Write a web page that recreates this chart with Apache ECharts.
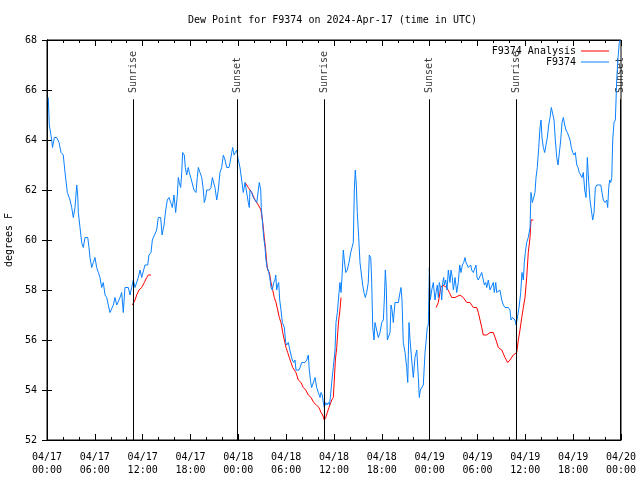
<!DOCTYPE html>
<html>
<head>
<meta charset="utf-8">
<script src="https://cdn.jsdelivr.net/npm/echarts@6/dist/echarts.min.js"></script>
<style>html,body{margin:0;padding:0;background:#fff}#c{width:640px;height:480px}</style>
</head>
<body>
<div id="c"></div>
<script>
// hours since 2024-04-17 00:00 UTC
const blueHours = [0.16,0.29,0.59,0.69,0.92,1.22,1.51,1.76,2.04,2.26,2.55,2.89,3.10,3.30,3.51,3.73,3.85,3.93,4.14,4.35,4.55,4.77,5.11,5.27,5.39,5.61,5.81,6.02,6.23,6.44,6.65,6.86,7.06,7.28,7.49,7.69,7.90,8.12,8.32,8.53,8.74,8.94,9.16,9.37,9.57,9.78,10.20,10.41,10.62,10.83,11.04,11.25,11.45,11.67,11.88,12.08,12.29,12.63,12.79,13.05,13.21,13.46,13.76,13.96,14.26,14.43,14.68,14.89,15.09,15.30,15.52,15.72,15.93,16.14,16.35,16.47,16.60,16.77,16.90,17.02,17.22,17.35,17.52,17.72,17.85,18.03,18.23,18.44,18.69,18.85,18.98,19.19,19.41,19.61,19.73,19.91,20.03,20.36,20.57,20.74,20.95,21.07,21.29,21.49,21.70,21.91,22.12,22.33,22.54,22.83,22.96,23.17,23.29,23.46,23.62,23.80,24.00,24.21,24.42,24.62,24.84,25.05,25.25,25.38,25.46,25.68,25.88,26.09,26.31,26.51,26.63,26.81,26.88,27.06,27.18,27.35,27.47,27.60,27.76,27.94,28.10,28.26,28.44,28.60,28.69,28.81,28.94,29.06,29.19,29.35,29.52,29.64,29.77,29.94,30.07,30.27,30.39,30.61,30.77,30.95,31.11,31.23,31.61,31.74,31.95,32.36,32.58,32.78,32.90,33.08,33.20,33.41,33.62,33.83,34.03,34.25,34.37,34.53,34.66,34.78,34.96,35.12,35.29,35.44,35.63,35.71,35.91,36.13,36.25,36.42,36.63,36.75,36.88,37.00,37.17,37.29,37.47,37.67,37.88,38.10,38.26,38.42,38.55,38.67,38.80,38.92,39.10,39.26,39.48,39.60,39.76,39.93,40.10,40.30,40.43,40.61,40.73,40.86,41.02,41.14,41.36,41.56,41.77,41.99,42.19,42.31,42.44,42.56,42.69,42.90,43.03,43.15,43.28,43.44,43.65,44.07,44.28,44.41,44.53,44.69,44.91,45.12,45.25,45.41,45.54,45.75,45.95,46.16,46.38,46.58,46.70,46.83,47.20,47.42,47.54,47.70,47.83,47.92,47.96,48.08,48.26,48.46,48.67,48.80,48.96,49.09,49.21,49.42,49.51,49.64,49.76,49.84,50.01,50.18,50.34,50.55,50.68,50.84,50.97,51.18,51.39,51.59,51.77,51.93,52.10,52.27,52.43,52.56,52.72,52.85,52.97,53.15,53.27,53.48,53.69,53.81,53.94,54.10,54.32,54.53,54.73,54.86,55.03,55.16,55.36,55.57,55.78,55.98,56.11,56.29,56.41,56.61,56.82,57.04,57.24,57.45,57.66,57.87,58.08,58.20,58.37,58.58,58.71,58.83,58.96,59.12,59.25,59.42,59.58,59.75,59.87,60.00,60.17,60.37,60.59,60.71,60.88,61.09,61.21,61.34,61.50,61.68,61.84,61.97,62.09,62.26,62.43,62.59,62.76,62.93,63.10,63.26,63.44,63.60,63.76,63.94,64.10,64.26,64.44,64.60,64.77,64.94,65.10,65.27,65.44,65.61,65.77,65.94,66.11,66.27,66.45,66.61,66.77,66.95,67.11,67.27,67.45,67.61,67.78,67.95,68.11,68.28,68.45,68.62,68.78,68.96,69.46,69.62,69.78,70.00,70.21,70.33,70.46,70.59,70.71,70.84,70.96,71.12,71.29,71.38,71.46,71.63,71.79,71.88];
const blueValues = [65.7,64.6,64.0,63.7,64.1,64.1,63.9,63.5,63.4,62.7,61.9,61.6,61.3,60.9,61.3,62.2,61.8,61.1,60.5,59.9,59.7,60.1,60.1,59.7,59.3,58.9,59.1,59.3,58.9,58.7,58.5,58.1,58.3,57.8,57.7,57.4,57.1,57.1,57.4,57.7,57.4,57.4,57.7,57.9,57.1,58.1,58.1,57.8,58.1,58.4,58.1,58.1,58.5,58.8,58.5,58.5,59.0,59.0,59.4,59.5,60.0,60.0,60.4,60.9,60.9,60.2,60.6,61.2,61.6,61.7,61.5,61.3,61.8,61.1,61.8,62.5,62.3,62.1,62.7,63.5,63.4,62.9,62.6,62.9,62.7,62.5,62.5,62.0,61.9,62.5,62.9,62.7,62.5,62.0,61.5,61.7,62.0,62.0,62.1,62.5,62.5,62.1,61.6,62.0,62.7,62.9,63.4,63.2,62.9,62.9,63.1,63.5,63.7,63.4,63.5,63.6,63.2,62.9,62.4,61.9,62.3,62.3,61.5,61.3,62.0,61.9,61.7,61.6,61.5,61.5,62.3,62.0,61.3,60.6,60.1,59.7,59.2,58.9,58.8,58.5,58.1,58.0,58.3,58.4,58.6,58.0,58.2,58.3,57.6,57.2,56.7,56.7,56.5,55.9,55.8,55.9,55.7,55.4,55.2,55.1,55.2,54.8,54.8,54.9,55.1,55.1,55.2,55.4,54.8,54.3,54.1,54.1,54.5,54.1,53.9,53.7,53.9,53.8,53.5,53.3,53.5,53.4,53.5,53.4,54.0,54.3,54.9,55.6,56.7,57.1,57.9,58.3,57.9,58.5,59.6,59.2,58.7,58.8,59.1,59.5,59.7,59.9,62.0,62.8,62.2,61.1,60.1,59.1,59.1,58.2,57.9,57.7,57.9,58.3,59.4,59.3,58.3,56.5,56.0,56.7,56.7,56.1,56.3,56.7,56.8,57.6,58.8,58.1,56.0,56.0,56.3,57.4,57.2,56.7,57.5,57.5,57.9,58.1,57.6,55.9,55.5,54.9,54.3,56.7,56.0,55.2,54.5,55.3,55.6,54.5,53.7,54.0,54.2,55.5,55.9,56.5,56.6,58.1,58.9,57.6,58.0,58.3,57.6,57.9,58.2,57.7,58.3,58.0,57.6,58.3,58.5,58.2,58.4,58.0,58.8,58.3,58.8,58.5,58.0,58.5,57.9,58.3,59.0,58.7,59.0,59.1,59.3,59.1,59.1,58.9,58.9,59.0,58.8,58.7,58.7,59.0,58.5,58.4,58.4,58.7,58.7,58.2,58.3,58.1,58.4,58.0,58.0,58.3,57.9,58.3,57.9,57.9,58.0,57.6,57.4,57.3,57.3,57.3,57.2,56.8,56.9,56.9,56.8,56.6,56.8,56.8,57.4,57.9,58.7,58.4,59.1,59.5,59.9,60.1,60.5,61.9,61.5,61.5,61.9,62.5,62.9,63.7,64.5,64.8,64.1,63.7,63.5,63.8,64.1,64.6,64.9,65.3,65.3,64.8,64.0,63.3,63.0,63.0,64.0,64.7,64.9,64.6,64.4,64.3,64.3,64.0,63.7,63.5,63.4,63.5,63.0,62.9,62.7,62.7,62.5,62.7,62.0,61.7,63.3,62.3,61.6,61.2,60.8,61.1,62.1,62.2,62.2,61.9,61.6,61.5,61.6,61.3,62.1,62.4,62.3,62.5,64.0,64.7,64.8,65.6,66.4,67.3,67.9,68.0];

// analysis series; null values mark gaps
const redHours = [10.70,11.04,11.25,11.54,11.88,12.21,12.51,12.71,13.05,18.0,24.84,25.25,25.68,26.09,26.51,26.84,27.06,27.26,27.43,27.56,27.68,27.89,28.10,28.31,28.51,28.73,28.94,29.14,29.35,29.57,29.77,29.98,30.19,30.39,30.61,30.82,31.02,31.23,31.52,31.86,32.15,32.45,32.78,33.12,33.46,33.78,34.12,34.37,34.58,34.78,34.96,35.16,35.37,35.71,35.91,36.04,36.17,36.34,36.47,36.59,36.75,36.88,42.0,48.80,49.09,49.39,49.64,50.14,50.47,50.77,51.18,51.81,52.22,52.65,53.06,53.48,53.90,54.10,54.32,54.53,54.73,55.16,55.57,55.98,56.32,56.61,57.04,57.45,57.79,58.08,58.49,58.92,59.12,59.33,59.55,59.75,59.96,60.17,60.37,60.59,60.71,61.01];
const redValues = [57.4,57.6,57.8,58.0,58.1,58.3,58.5,58.6,58.6,null,62.3,62.1,61.9,61.6,61.4,61.2,60.7,60.1,59.6,59.1,58.8,58.7,58.3,58.0,57.7,57.5,57.2,56.9,56.7,56.3,56.0,55.7,55.5,55.3,55.1,54.9,54.8,54.7,54.4,54.3,54.1,54.0,53.8,53.7,53.5,53.4,53.3,53.1,53.0,52.8,52.9,53.1,53.3,53.6,53.7,54.4,55.2,55.7,56.3,56.8,57.2,57.7,null,57.3,57.5,58.1,58.2,58.1,57.9,57.7,57.7,57.8,57.7,57.5,57.5,57.3,57.3,57.1,56.8,56.5,56.2,56.2,56.3,56.3,56.0,55.7,55.6,55.3,55.1,55.2,55.4,55.5,56.0,56.4,56.9,57.3,57.7,58.5,59.5,60.1,60.8,60.8];

const sunTimes = [10.83, 23.87, 34.78, 47.93, 58.9, 71.9];
const sunNames = ['Sunrise', 'Sunset', 'Sunrise', 'Sunset', 'Sunrise', 'Sunset'];

const xTickLabels = ['04/17\n00:00','04/17\n06:00','04/17\n12:00','04/17\n18:00','04/18\n00:00','04/18\n06:00','04/18\n12:00','04/18\n18:00','04/19\n00:00','04/19\n06:00','04/19\n12:00','04/19\n18:00','04/20\n00:00'];
const yTickLabels = ['52','54','56','58','60','62','64','66','68'];

const FONT = 'DejaVu Sans Mono';
const chart = echarts.init(document.getElementById('c'), null, {renderer: 'canvas'});

const blueData = blueHours.map((h, i) => [h, blueValues[i]]);
const redData = redHours.map((h, i) => [h, redValues[i] == null ? '-' : redValues[i]]);
const sunLabelData = sunTimes.map((t, i) => ({value: [t, 65.84], name: sunNames[i]}));
const sunLineData = sunTimes.map(t => [{coord: [t, 52]}, {coord: [t, 65.63]}]);

// thin horizontal line icon inside a 28x10 box
const LINE_ICON = 'path://M0,0 L0.01,0 L0.01,0.01 Z M0,4.5 L28,4.5 L28,5.5 L0,5.5 Z M27.99,10 L28,10 L28,9.99 Z';

const xAxisBase = {
  type: 'value', min: 0, max: 72, interval: 6,
  axisLine: {show: true, lineStyle: {color: '#000', width: 1}},
  splitLine: {show: false},
  minorSplitLine: {show: false},
  minorTick: {show: true, splitNumber: 3, length: 3, lineStyle: {color: '#000'}},
  axisTick: {show: true, inside: true, length: 6, lineStyle: {color: '#000'}}
};
const yAxisBase = {
  type: 'value', min: 52, max: 68, interval: 2,
  axisLine: {show: true, lineStyle: {color: '#000', width: 1}},
  splitLine: {show: false},
  axisTick: {show: true, inside: true, length: 5, lineStyle: {color: '#000'}}
};

chart.setOption({
  animation: false,
  backgroundColor: '#fff',
  title: {
    text: 'Dew Point for F9374 on 2024-Apr-17 (time in UTC)',
    left: 188, top: 15, padding: 0,
    textStyle: {fontFamily: FONT, fontSize: 10, fontWeight: 'normal', color: '#000'}
  },
  legend: {
    orient: 'vertical', align: 'right', right: 31, top: 46, padding: 0,
    itemWidth: 28, itemHeight: 10, itemGap: 1,
    textStyle: {fontFamily: FONT, fontSize: 10, color: '#000'},
    data: [
      {name: 'F9374 Analysis', icon: LINE_ICON, itemStyle: {color: '#ff0000'}},
      {name: 'F9374', icon: LINE_ICON, itemStyle: {color: '#0a80ff'}}
    ]
  },
  grid: {left: 47, right: 19, top: 40, bottom: 40, show: true, borderColor: '#000', borderWidth: 1, containLabel: false, outerBoundsMode: 'none'},
  xAxis: [
    Object.assign({}, xAxisBase, {
      position: 'bottom',
      axisLabel: {
        show: true, margin: 11, fontFamily: FONT, fontSize: 10, color: '#000', lineHeight: 13,
        formatter: v => xTickLabels[Math.round(v / 6)]
      }
    }),
    Object.assign({}, xAxisBase, {position: 'top', axisLabel: {show: false}})
  ],
  yAxis: [
    Object.assign({}, yAxisBase, {
      position: 'left',
      name: 'degrees F', nameLocation: 'middle', nameRotate: 90, nameGap: 32,
      nameTextStyle: {fontFamily: FONT, fontSize: 10, color: '#000'},
      axisLabel: {
        show: true, margin: 10, fontFamily: FONT, fontSize: 10, color: '#000',
        formatter: v => yTickLabels[Math.round((v - 52) / 2)]
      }
    }),
    Object.assign({}, yAxisBase, {position: 'right', axisLabel: {show: false}})
  ],
  series: [
    {
      name: 'sun', type: 'scatter', xAxisIndex: 0, yAxisIndex: 0,
      symbolSize: 0, silent: true, data: sunLabelData,
      label: {
        show: true, position: 'inside', rotate: 90, align: 'left', verticalAlign: 'middle',
        offset: [1, 0],
        formatter: p => p.name, fontFamily: FONT, fontSize: 10, color: '#000'
      },
      markLine: {
        silent: true, symbol: ['none', 'none'],
        lineStyle: {color: '#000', width: 1, type: 'solid'},
        label: {show: false},
        data: sunLineData
      }
    },
    {
      name: 'F9374 Analysis', type: 'line', xAxisIndex: 0, yAxisIndex: 0,
      data: redData, showSymbol: false, symbol: 'none', connectNulls: false,
      lineStyle: {color: '#ff0000', width: 1}, itemStyle: {color: '#ff0000'}
    },
    {
      name: 'F9374', type: 'line', xAxisIndex: 0, yAxisIndex: 0,
      data: blueData, showSymbol: false, symbol: 'none',
      lineStyle: {color: '#0a80ff', width: 1}, itemStyle: {color: '#0a80ff'}
    }
  ]
});
</script>
</body>
</html>
